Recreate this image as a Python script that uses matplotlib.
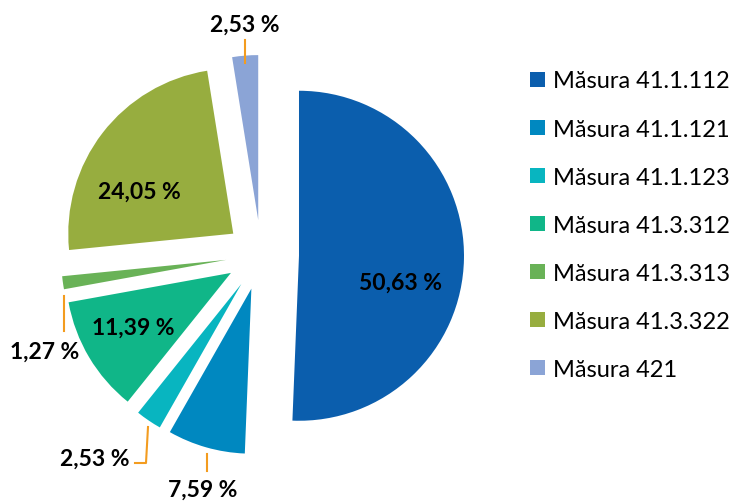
import numpy as np
import matplotlib.pyplot as plt
from matplotlib.patches import Patch

labels = ['Măsura 41.1.112', 'Măsura 41.1.121', 'Măsura 41.1.123', 'Măsura 41.3.312',
          'Măsura 41.3.313', 'Măsura 41.3.322', 'Măsura 421']
values = [50.63, 7.59, 2.53, 11.39, 1.27, 24.05, 2.53]
pct_text = ['50,63 %', '7,59 %', '2,53 %', '11,39 %', '1,27 %', '24,05 %', '2,53 %']
colors = ['#0B5EAD', '#0088C0', '#08B5C0', '#10B688', '#69B257', '#97AD3F', '#8BA4D6']

plt.rcParams['font.family'] = ['Lato', 'DejaVu Sans']

W, H = 739, 502
fig = plt.figure(figsize=(W / 100, H / 100), dpi=100)
ax = fig.add_axes([0, 0, 1, 1])

cx, cy, r = 261, 246, 165
wedges, _ = ax.pie(values, center=(cx, cy), radius=r, explode=[38, 35, 35, 35, 35, 35, 35],
                   startangle=90, counterclock=False, colors=colors,
                   frame=True, wedgeprops=dict(linewidth=0))
ax.set_xlim(0, W)
ax.set_ylim(0, H)
ax.set_aspect('equal')
ax.axis('off')

lab_kw = dict(fontsize=16.5, fontweight='bold', color='black', va='center')
lead = dict(color='#F39C1F', lw=1.5)

# labels inside the big slices
ax.text(400, H - 283, pct_text[0], ha='center', **lab_kw)
ax.text(139, H - 192, pct_text[5], ha='center', **lab_kw)
ax.text(133, H - 328, pct_text[3], ha='center', **lab_kw)

# small slices, label outside with leader line
ax.plot([245, 245], [H - 64, H - 41], **lead)
ax.text(245, H - 25, pct_text[6], ha='center', **lab_kw)

ax.plot([64, 64], [H - 297, H - 332], **lead)
ax.text(45, H - 352, pct_text[4], ha='center', **lab_kw)

ax.plot([148, 146, 135], [H - 428, H - 464, H - 464], **lead)
ax.text(129, H - 459, pct_text[2], ha='right', **lab_kw)

ax.plot([207, 207], [H - 455, H - 472], **lead)
ax.text(203, H - 490, pct_text[1], ha='center', **lab_kw)

handles = [Patch(facecolor=c, edgecolor='none') for c in colors]
fig.legend(handles, labels, loc='upper left', bbox_to_anchor=(521 / W, 1 - 62 / H),
           frameon=False, fontsize=17, handlelength=0.6, handleheight=0.6,
           handletextpad=0.34, labelspacing=1.146, borderaxespad=0)

fig.savefig('out.png', dpi=100)
